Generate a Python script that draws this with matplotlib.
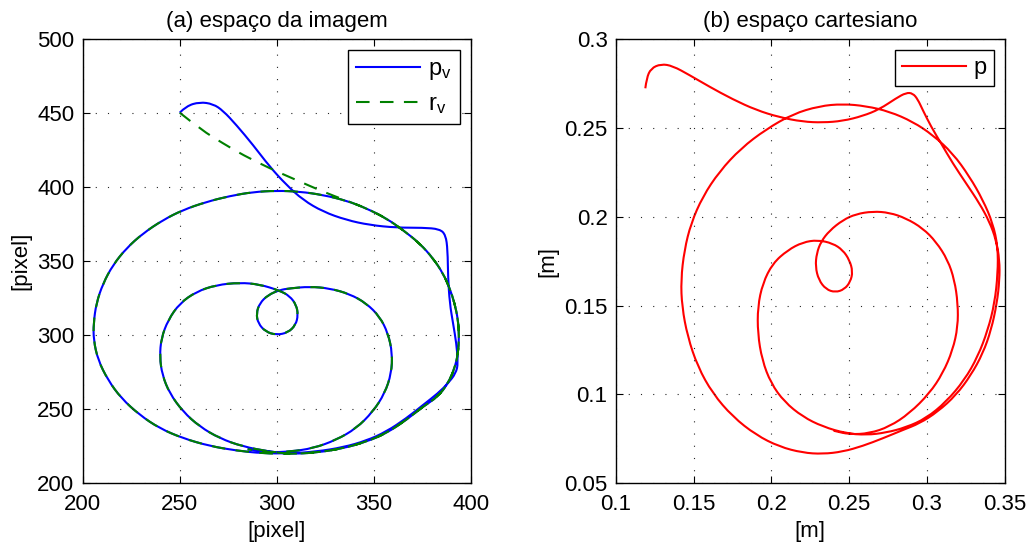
import matplotlib
matplotlib.use("Agg")
import matplotlib.pyplot as plt
from matplotlib.path import Path
from matplotlib.patches import PathPatch
from matplotlib.lines import Line2D

plt.rcParams['font.family'] = ['Liberation Sans', 'DejaVu Sans']
plt.rcParams['mathtext.fontset'] = 'custom'
plt.rcParams['mathtext.rm'] = 'Liberation Sans'
plt.rcParams['mathtext.it'] = 'Liberation Sans'

# ---- image space [pixel] ----
# measured feature p_v: overshoot at the start, then down to the bottom of the big loop
pv_head_x = [250.0, 253.4, 260.3, 267.2, 272.3, 279.2, 287.8, 296.4, 305.0, 313.6,
             323.9, 335.9, 347.9, 361.7, 375.4, 384.0, 387.1, 388.1, 388.3, 389.2,
             390.9, 392.6, 393.5, 392.3, 388.3, 383.1, 375.4, 366.8, 356.5, 346.2,
             334.2, 320.4, 306.7]
pv_head_y = [450.4, 454.9, 457.6, 456.3, 451.8, 442.1, 428.6, 413.9, 401.6, 391.4,
             383.5, 377.9, 374.5, 372.7, 372.7, 371.8, 367.8, 357.6, 339.6, 321.6,
             308.1, 294.6, 281.0, 274.3, 267.5, 260.8, 252.9, 243.9, 234.9, 228.8,
             224.3, 221.4, 220.2]

# reference r_v: straight-ish approach until it meets the big loop
rv_head_x = [250.0, 261.2, 272.3, 282.6, 296.4, 310.1, 323.9]
rv_head_y = [450.4, 438.7, 429.7, 421.8, 412.8, 404.9, 397.0]

# big loop, right half (top-right down to the bottom)
ring_right_x = [335.9, 346.2, 356.5, 365.1, 373.7, 380.6, 385.7, 389.2, 391.7, 393.5,
                394.0, 393.5, 391.7, 388.3, 383.1, 375.4, 366.8, 356.5, 346.2, 334.2,
                320.4, 306.7]
ring_right_y = [391.0, 385.8, 379.0, 371.1, 362.1, 352.0, 341.9, 331.7, 321.6, 310.3,
                299.1, 287.8, 277.7, 267.5, 258.5, 251.8, 242.8, 233.8, 228.1, 223.6,
                220.7, 219.8]

# big loop, left half (bottom, left side, top)
ring_left_x = [292.9, 279.2, 265.4, 251.7, 239.7, 229.4, 219.9, 213.0, 207.9, 205.6,
               205.6, 207.0, 210.5, 215.6, 222.5, 231.1, 241.4, 251.7, 263.7, 275.8,
               287.8, 299.8, 311.8, 323.9]
ring_left_y = [220.2, 222.1, 225.2, 230.4, 237.1, 246.1, 257.4, 269.8, 283.3, 296.8,
               308.1, 321.6, 335.1, 347.5, 358.8, 368.9, 377.9, 384.7, 390.1, 394.1,
               396.8, 397.7, 397.1, 394.8]

# inner loop with the small curl in the middle
inner_x = [296.4, 282.6, 270.6, 260.3, 251.7, 244.8, 241.0, 239.7, 240.5, 244.0,
           250.0, 258.6, 268.9, 280.9, 291.2, 301.5,
           306.7, 310.1, 311.0, 309.8, 305.8, 299.8, 294.3, 290.4, 289.5, 291.2,
           295.5, 301.5,
           306.7, 317.0, 327.3, 337.6, 346.2, 353.1, 357.4, 359.6, 359.1, 355.7,
           349.6, 341.0, 330.7, 318.7, 306.7, 296.4, 285.0]
inner_y = [221.4, 224.8, 230.4, 238.3, 248.4, 260.8, 273.2, 285.6, 298.0, 310.3,
           321.6, 329.5, 334.0, 335.6, 334.4, 330.2,
           326.5, 320.5, 313.7, 307.0, 301.8, 300.2, 302.4, 308.1, 314.8, 321.6,
           327.2, 330.6,
           331.7, 332.9, 331.7, 327.9, 321.6, 312.6, 301.3, 287.8, 274.3, 260.8,
           248.4, 237.1, 229.3, 223.6, 221.4, 220.9, 223.0]

# ---- cartesian space [m] ----
p_x = [0.1189, 0.1197, 0.1225, 0.1290, 0.1365, 0.1472, 0.1601, 0.1751, 0.1901, 0.2051,
       0.2201, 0.2330, 0.2459, 0.2587, 0.2695, 0.2802, 0.2866, 0.2909, 0.2941, 0.2973,
       0.3027, 0.3091, 0.3166, 0.3252, 0.3338, 0.3402, 0.3445, 0.3467, 0.3467, 0.3450,
       0.3413, 0.3360, 0.3284, 0.3188, 0.3070, 0.2952, 0.2845,
       0.2716, 0.2587, 0.2459, 0.2330, 0.2201, 0.2051, 0.1901, 0.1751, 0.1622, 0.1526,
       0.1461, 0.1425, 0.1418, 0.1440, 0.1483, 0.1558, 0.1665, 0.1804, 0.1965, 0.2137,
       0.2308, 0.2459, 0.2609, 0.2759, 0.2909, 0.3038, 0.3166, 0.3274, 0.3360, 0.3424,
       0.3456, 0.3456, 0.3435, 0.3392, 0.3327, 0.3241, 0.3124, 0.2995, 0.2866,
       0.2737, 0.2609, 0.2480, 0.2330, 0.2201, 0.2083, 0.1997, 0.1940, 0.1912, 0.1912,
       0.1944, 0.2008, 0.2105, 0.2201, 0.2298,
       0.2394, 0.2459, 0.2502, 0.2523, 0.2508, 0.2469, 0.2411, 0.2351, 0.2304, 0.2283,
       0.2291, 0.2319,
       0.2373, 0.2459, 0.2544, 0.2652, 0.2759, 0.2866, 0.2973, 0.3059, 0.3134, 0.3177,
       0.3199, 0.3199, 0.3166, 0.3102, 0.3016, 0.2888, 0.2759, 0.2630, 0.2502, 0.2400]
p_y = [0.2724, 0.2780, 0.2836, 0.2861, 0.2850, 0.2799, 0.2733, 0.2662, 0.2602, 0.2561,
       0.2536, 0.2531, 0.2540, 0.2568, 0.2606, 0.2668, 0.2699, 0.2696, 0.2662, 0.2602,
       0.2508, 0.2414, 0.2302, 0.2189, 0.2076, 0.1973, 0.1870, 0.1757, 0.1645, 0.1513,
       0.1363, 0.1232, 0.1110, 0.0997, 0.0903, 0.0837, 0.0800,
       0.0753, 0.0710, 0.0678, 0.0665, 0.0672, 0.0706, 0.0772, 0.0875, 0.1006, 0.1157,
       0.1326, 0.1494, 0.1645, 0.1813, 0.1964, 0.2114, 0.2255, 0.2386, 0.2493, 0.2579,
       0.2624, 0.2636, 0.2624, 0.2593, 0.2536, 0.2461, 0.2358, 0.2227, 0.2095, 0.1964,
       0.1832, 0.1682, 0.1513, 0.1363, 0.1213, 0.1081, 0.0959, 0.0866, 0.0815,
       0.0785, 0.0772, 0.0781, 0.0819, 0.0875, 0.0959, 0.1063, 0.1194, 0.1344, 0.1494,
       0.1626, 0.1738, 0.1813, 0.1857, 0.1870,
       0.1851, 0.1813, 0.1757, 0.1692, 0.1635, 0.1592, 0.1575, 0.1592, 0.1645, 0.1720,
       0.1795, 0.1861,
       0.1922, 0.1982, 0.2016, 0.2031, 0.2024, 0.1992, 0.1936, 0.1860, 0.1757, 0.1645,
       0.1513, 0.1382, 0.1250, 0.1119, 0.1006, 0.0894, 0.0819, 0.0781, 0.0775, 0.0796]

# p_v: overshoot, once round the big loop, then the inner loop
pv_x = pv_head_x + ring_left_x + ring_right_x + inner_x
pv_y = pv_head_y + ring_left_y + ring_right_y + inner_y
# r_v: approach, right half, full big loop, then the inner loop
rv_x = rv_head_x + ring_right_x + ring_left_x + ring_right_x + inner_x
rv_y = rv_head_y + ring_right_y + ring_left_y + ring_right_y + inner_y

FS = 16


def smooth_curve(ax, xs, ys, **kw):
    # quadratic bezier through the midpoints, sampled points act as control points
    verts = [(xs[0], ys[0])]
    codes = [Path.MOVETO]
    for i in range(1, len(xs) - 1):
        verts.append((xs[i], ys[i]))
        verts.append(((xs[i] + xs[i + 1]) / 2, (ys[i] + ys[i + 1]) / 2))
        codes += [Path.CURVE3, Path.CURVE3]
    verts.append((xs[-1], ys[-1]))
    codes.append(Path.LINETO)
    ax.add_patch(PathPatch(Path(verts, codes), fill=False, capstyle='butt',
                           joinstyle='round', **kw))


def matlab_axes(ax):
    ax.tick_params(direction='in', top=True, right=True, length=5, width=0.8,
                   labelsize=FS)
    ax.tick_params(axis='x', pad=8)
    ax.tick_params(axis='y', pad=6)
    ax.grid(True, linestyle=(0, (1, 10)), color='0.15', linewidth=0.8)
    for s in ax.spines.values():
        s.set_linewidth(1.0)


fig = plt.figure(figsize=(10.3, 5.44), dpi=100)
ax1 = fig.add_axes([0.0803, 0.1116, 0.3767, 0.8162])
ax2 = fig.add_axes([0.598, 0.1116, 0.3774, 0.8162])

blue_style = dict(color='#0000ff', linewidth=1.5)
green_style = dict(color='#008000', linewidth=1.5, linestyle=(0, (6.5, 5)))
red_style = dict(color='#ff0000', linewidth=1.5)

smooth_curve(ax1, pv_x, pv_y, edgecolor=blue_style['color'], linewidth=1.5)
smooth_curve(ax1, rv_x, rv_y, edgecolor=green_style['color'], linewidth=1.5,
             linestyle=green_style['linestyle'])
ax1.set_xlim(200, 400)
ax1.set_ylim(200, 500)
ax1.set_xticks([200, 250, 300, 350, 400])
ax1.set_yticks([200, 250, 300, 350, 400, 450, 500])
ax1.set_title('(a) espaço da imagem', fontsize=FS, pad=9)
ax1.set_xlabel('[pixel]', fontsize=FS, labelpad=4)
ax1.set_ylabel('[pixel]', fontsize=FS, labelpad=4)
matlab_axes(ax1)
handles1 = [Line2D([], [], **blue_style), Line2D([], [], **green_style)]
leg1 = ax1.legend(handles1, [r'$\mathregular{p_v}$', r'$\mathregular{r_v}$'],
                  loc='upper right', fontsize=17, handlelength=2.7,
                  handletextpad=0.35, fancybox=False, edgecolor='k', framealpha=1,
                  borderaxespad=0.45, labelspacing=0.45, borderpad=0.35)
leg1.get_frame().set_linewidth(1.0)

smooth_curve(ax2, p_x, p_y, edgecolor=red_style['color'], linewidth=1.5)
ax2.set_xlim(0.1, 0.35)
ax2.set_ylim(0.05, 0.3)
ax2.set_xticks([0.1, 0.15, 0.2, 0.25, 0.3, 0.35])
ax2.set_xticklabels(['0.1', '0.15', '0.2', '0.25', '0.3', '0.35'])
ax2.set_yticks([0.05, 0.1, 0.15, 0.2, 0.25, 0.3])
ax2.set_yticklabels(['0.05', '0.1', '0.15', '0.2', '0.25', '0.3'])
ax2.set_title('(b) espaço cartesiano', fontsize=FS, pad=9)
ax2.set_xlabel('[m]', fontsize=FS, labelpad=4)
ax2.set_ylabel('[m]', fontsize=FS, labelpad=4)
matlab_axes(ax2)
leg2 = ax2.legend([Line2D([], [], **red_style)], ['p'],
                  loc='upper right', fontsize=17, handlelength=2.7,
                  handletextpad=0.35, fancybox=False, edgecolor='k', framealpha=1,
                  borderaxespad=0.45, borderpad=0.3)
leg2.get_frame().set_linewidth(1.0)

fig.savefig('out.png', dpi=100)
